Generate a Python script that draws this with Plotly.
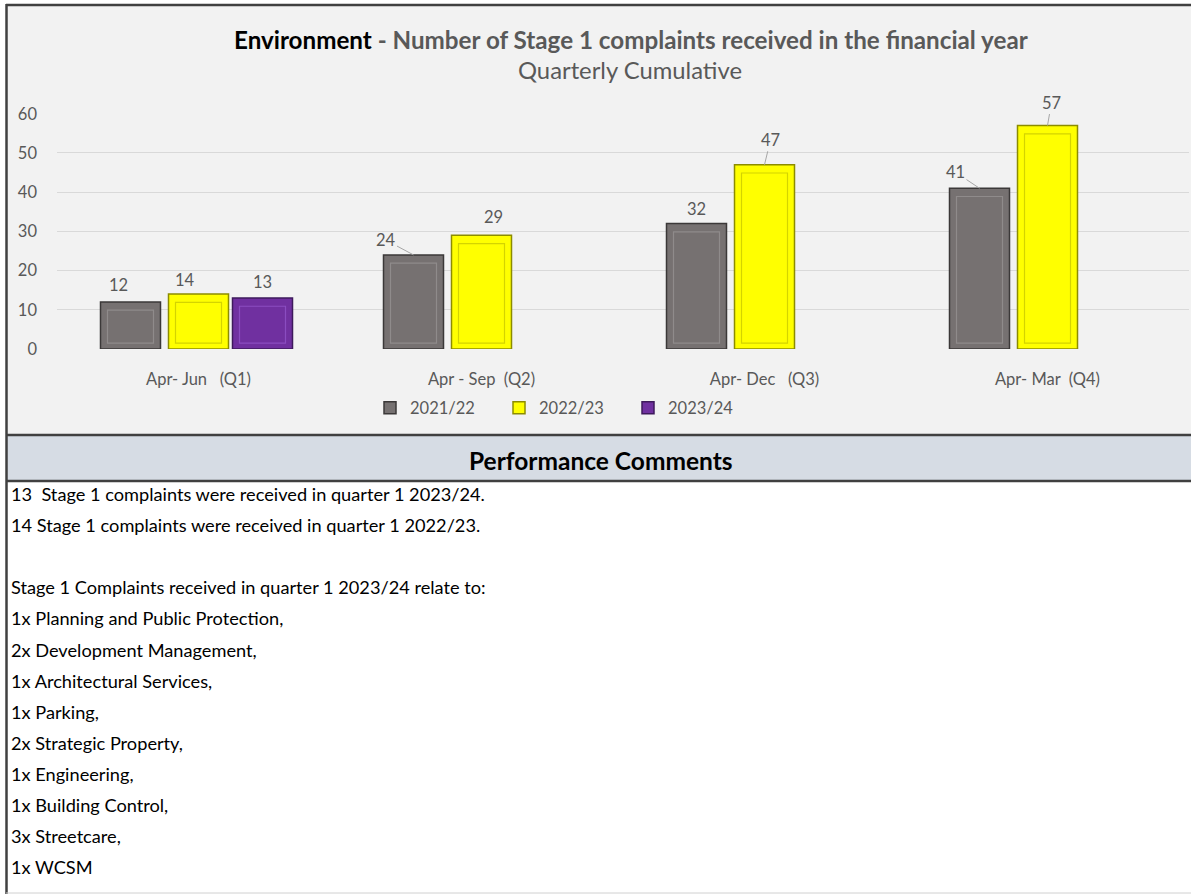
import plotly.graph_objects as go

# ---- data ----
quarters = ["Apr- Jun\u00a0\u00a0 (Q1)", "Apr - Sep\u00a0 (Q2)", "Apr- Dec\u00a0\u00a0 (Q3)", "Apr- Mar\u00a0 (Q4)"]
years = ["2021/22", "2022/23", "2023/24"]
fy_2021_22 = [12, 24, 32, 41]
fy_2022_23 = [14, 29, 47, 57]
fy_2023_24 = [13, None, None, None]

comment_lines = [
    "13\u00a0 Stage 1 complaints were received in quarter 1 2023/24.",
    "14 Stage 1 complaints were received in quarter 1 2022/23.",
    "",
    "Stage 1 Complaints received in quarter 1 2023/24 relate to:",
    "1x Planning and Public Protection,",
    "2x Development Management,",
    "1x Architectural Services,",
    "1x Parking,",
    "2x Strategic Property,",
    "1x Engineering,",
    "1x Building Control,",
    "3x Streetcare,",
    "1x WCSM",
]

# ---- styling ----
FONT = "Lato"
GREY_TXT = "#595959"
SMALL = 16.5
fills = ["#767171", "#ffff00", "#7030a0"]
edges = ["#3b3838", "#8c8c00", "#3e1a5c"]
inner_edges = ["#8f8b8b", "#d4d400", "#8a4cc0"]
slot_px = [-68, 0, 64]          # bar centre offset from category centre, px
# label offsets (dx, dy) from bar top centre and whether a leader line is drawn
label_dx = [[-12, -28, 0, -24], [-14, 12, 6, 4], [0, 0, 0, 0]]
label_dy = [[-17, -15, -15, -16], [-14, -18, -25, -23], [-16, 0, 0, 0]]
leader = [[False, True, False, True], [False, False, True, True], [False, False, False, False]]

L, R, T, B = 57, 2, 113, 545
W_PX, H_PX = 1191, 894
plot_w = W_PX - L - R
plot_h = H_PX - T - B
cat_px = plot_w / len(quarters)


def px(p):
    return (p - L) / plot_w


def py(p):
    return (H_PX - B - p) / plot_h


series = [fy_2021_22, fy_2022_23, fy_2023_24]
bar_w = 60 / cat_px
inner_w = 46 / cat_px

fig = go.Figure()
for i, (name, vals) in enumerate(zip(years, series)):
    centre = slot_px[i] / cat_px
    fig.add_trace(go.Bar(x=quarters, y=vals, name=name,
                         offset=centre - bar_w / 2, width=bar_w,
                         marker=dict(color=fills[i], line=dict(color=edges[i], width=1.5)),
                         hoverinfo="y"))
    # inner bevel rectangle
    inner = [None if v is None else v - 3.6 for v in vals]
    fig.add_trace(go.Bar(x=quarters, y=inner, base=1.5, showlegend=False,
                         offset=centre - inner_w / 2, width=inner_w,
                         marker=dict(color=fills[i], line=dict(color=inner_edges[i], width=1.2)),
                         hoverinfo="skip"))

annotations = []

# data labels
for i, vals in enumerate(series):
    for j, v in enumerate(vals):
        if v is None:
            continue
        annotations.append(dict(x=quarters[j], y=v, xref="x", yref="y", text=str(v),
                                xshift=slot_px[i], ax=label_dx[i][j], ay=label_dy[i][j],
                                showarrow=True, arrowhead=0, arrowwidth=1, standoff=0,
                                arrowcolor="#a6a6a6" if leader[i][j] else "rgba(0,0,0,0)",
                                font=dict(family=FONT, size=SMALL, color=GREY_TXT)))

shapes = [
    # chart background
    dict(type="rect", xref="paper", yref="paper", x0=px(6), x1=px(1191), y0=py(435), y1=py(5),
         fillcolor="#f2f2f2", line=dict(width=0), layer="below"),
    # header band
    dict(type="rect", xref="paper", yref="paper", x0=px(6), x1=px(1191), y0=py(481), y1=py(436),
         fillcolor="#d6dce4", line=dict(width=0), layer="below"),
    # borders
    dict(type="line", xref="paper", yref="paper", x0=px(6), x1=px(1191), y0=py(5), y1=py(5),
         line=dict(color="#404040", width=2.5)),
    dict(type="line", xref="paper", yref="paper", x0=px(6), x1=px(1191), y0=py(435), y1=py(435),
         line=dict(color="#404040", width=2.5)),
    dict(type="line", xref="paper", yref="paper", x0=px(6), x1=px(1191), y0=py(481), y1=py(481),
         line=dict(color="#404040", width=2.5)),
    dict(type="line", xref="paper", yref="paper", x0=px(6.5), x1=px(6.5), y0=py(894), y1=py(4),
         line=dict(color="#404040", width=2.5)),
    dict(type="line", xref="paper", yref="paper", x0=px(6), x1=px(1191), y0=py(893), y1=py(893),
         line=dict(color="#d0d0d0", width=1)),
]

annotations += [
    dict(xref="paper", yref="paper", x=px(631), y=py(40), xanchor="center", yanchor="middle",
         showarrow=False,
         text="<b>Environment</b><span style='color:%s'><b> - Number of Stage 1 complaints received in the financial year</b></span>" % GREY_TXT,
         font=dict(family=FONT, size=24.2, color="#000000")),
    dict(xref="paper", yref="paper", x=px(630), y=py(70), xanchor="center", yanchor="middle",
         showarrow=False,
         text="Quarterly Cumulative", font=dict(family=FONT, size=23.8, color=GREY_TXT)),
    dict(xref="paper", yref="paper", x=px(601), y=py(460), xanchor="center", yanchor="middle",
         showarrow=False,
         text="<b>Performance Comments</b>", font=dict(family=FONT, size=24.5, color="#000000")),
]
for k, line in enumerate(comment_lines):
    if not line:
        continue
    annotations.append(dict(xref="paper", yref="paper", x=px(9), y=py(494 + 31.1 * k),
                            xanchor="left", yanchor="middle", showarrow=False, text=line,
                            font=dict(family=FONT, size=18.2, color="#000000")))

fig.update_layout(
    width=W_PX, height=H_PX,
    margin=dict(l=L, r=R, t=T, b=B, pad=0),
    paper_bgcolor="white", plot_bgcolor="rgba(0,0,0,0)",
    barmode="overlay",
    font=dict(family=FONT, size=SMALL, color=GREY_TXT),
    showlegend=True,
    legend=dict(orientation="h", x=px(370), y=py(408), xanchor="left", yanchor="middle",
                font=dict(family=FONT, size=SMALL, color=GREY_TXT), bgcolor="rgba(0,0,0,0)",
                itemwidth=30, entrywidth=84),
    xaxis=dict(showgrid=False, showline=False, ticks="", ticklabelstandoff=18,
               tickfont=dict(family=FONT, size=SMALL, color=GREY_TXT)),
    yaxis=dict(range=[0, 60.2], dtick=10, showgrid=True, gridcolor="#d9d9d9", gridwidth=1,
               zeroline=False, showline=False, ticks="", ticklabelstandoff=19,
               tickfont=dict(family=FONT, size=SMALL, color=GREY_TXT)),
    shapes=shapes,
    annotations=annotations,
)

fig.write_html("out.html", config={"displayModeBar": False},
               post_script="document.body.style.margin='0';")
